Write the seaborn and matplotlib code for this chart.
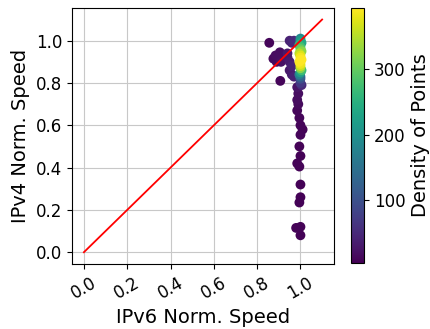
import numpy as np
import pandas as pd
import seaborn as sns
import matplotlib
import matplotlib.pyplot as plt

# normalized speeds (IPv6 on x, IPv4 on y) and the point density used for colour
ipv6_speed = [0.856, 0.875, 0.885, 0.900, 0.910, 0.890, 0.905, 0.907,
              0.950, 0.970, 0.960, 0.940, 0.950, 0.960, 0.950, 0.960, 0.970, 0.940,
              0.985, 0.990, 0.985, 0.990, 0.985, 0.995, 1.000, 1.010, 1.000, 0.995,
              1.000, 0.985, 0.995, 1.000, 1.000, 0.995, 0.980, 1.000, 1.000,
              1.000, 1.000, 1.005, 0.995, 1.000, 1.000, 1.005, 0.995, 1.000, 1.000,
              1.005, 0.995, 1.000, 1.000, 1.000, 1.005, 1.000, 0.995, 1.000, 1.000,
              1.000, 1.005]
ipv4_speed = [0.990, 0.915, 0.930, 0.925, 0.900, 0.900, 0.945, 0.810,
              1.000, 1.000, 0.990, 0.920, 0.900, 0.880, 0.860, 0.840, 0.830, 0.940,
              0.780, 0.750, 0.720, 0.700, 0.670, 0.635, 0.600, 0.580, 0.555, 0.500,
              0.455, 0.420, 0.405, 0.320, 0.260, 0.235, 0.115, 0.120, 0.080,
              1.010, 1.000, 0.990, 0.980, 0.970, 0.960, 0.950, 0.940, 0.930, 0.920,
              0.910, 0.900, 0.890, 0.880, 0.870, 0.860, 0.850, 0.840, 0.830, 0.820,
              0.800, 0.790]
density = [10, 15, 18, 20, 22, 16, 18, 10,
           40, 50, 45, 30, 35, 40, 30, 35, 40, 30,
           25, 20, 18, 15, 12, 10, 10, 9, 10, 9,
           8, 9, 9, 8, 8, 8, 9, 9, 8,
           190, 215, 235, 255, 275, 300, 325, 350, 372, 385,
           392, 390, 380, 360, 320, 270, 220, 170, 130, 100,
           70, 50]

df = pd.DataFrame({'ipv6': ipv6_speed, 'ipv4': ipv4_speed, 'density': density})
df = df.sort_values('density')

fig = plt.figure(figsize=(4.31, 3.29), dpi=100)
ax = fig.add_axes([0.167, 0.198, 0.608, 0.778])
cax = fig.add_axes([0.8144, 0.2006, 0.030, 0.775])

norm = matplotlib.colors.Normalize(vmin=min(density) - 3, vmax=max(density))
sns.scatterplot(data=df, x='ipv6', y='ipv4', hue='density', palette='viridis',
                hue_norm=norm, s=50, linewidth=0, legend=False, ax=ax, zorder=3)
ax.plot([0, 1.1], [0, 1.1], color='red', linewidth=1.3, zorder=4)

ax.set_xlim(-0.055, 1.155)
ax.set_ylim(-0.055, 1.155)
ax.set_xticks([0.0, 0.2, 0.4, 0.6, 0.8, 1.0])
ax.set_yticks([0.0, 0.2, 0.4, 0.6, 0.8, 1.0])
ax.tick_params(axis='both', labelsize=12)
plt.setp(ax.get_xticklabels(), rotation=30)
ax.grid(True, color='#c8c8c8', linewidth=0.8, zorder=0)
ax.set_axisbelow(True)
ax.set_xlabel('IPv6 Norm. Speed', fontsize=14)
ax.set_ylabel('IPv4 Norm. Speed', fontsize=14)

sm = matplotlib.cm.ScalarMappable(norm=norm, cmap='viridis')
cbar = fig.colorbar(sm, cax=cax)
cbar.set_ticks([100, 200, 300])
cbar.ax.tick_params(labelsize=12)
cbar.set_label('Density of Points', fontsize=14)

fig.savefig('out.png', dpi=100)
